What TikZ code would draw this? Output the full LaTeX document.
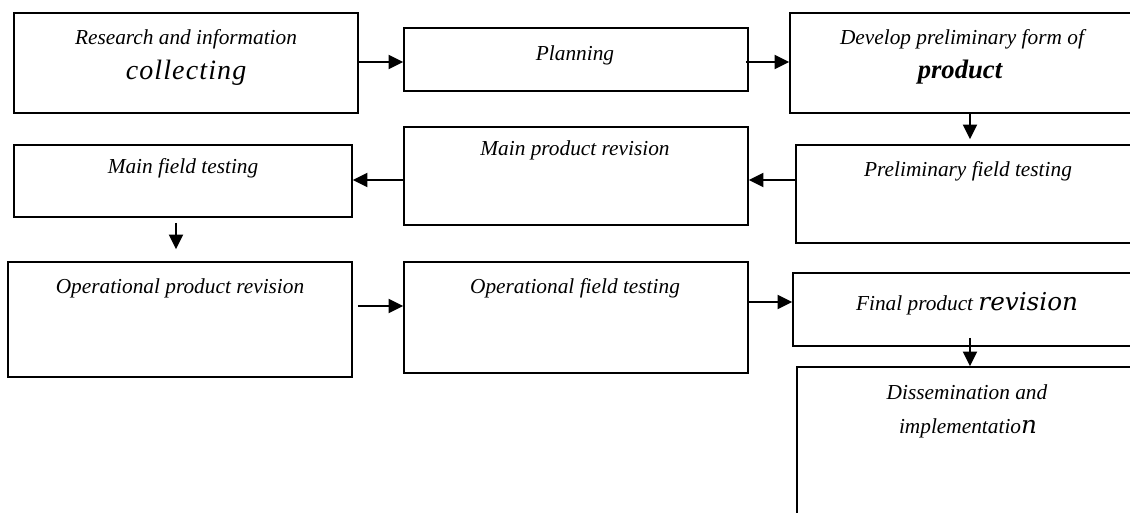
\documentclass[tikz,border=0pt]{standalone}
\usepackage{fontspec}
\setmainfont{Liberation Serif}
\newfontfamily\widefont{DejaVu Serif}
\newfontfamily\spacedfont[LetterSpace=4.0]{Liberation Serif}
\usetikzlibrary{arrows.meta,fit}
\tikzset{
  stagebox/.style={draw=black, line width=1.2pt, inner sep=0pt},
  lbl/.style={inner sep=0pt, font=\fontsize{16}{19}\selectfont\itshape},
  arr/.style={line width=1.5pt, -{Triangle[length=11pt,width=10.5pt]}},
}
\newcommand{\stage}[5]{%
  \coordinate (#1-nw) at (#2,#3);
  \coordinate (#1-se) at (#4,#5);
  \node[stagebox, fit=(#1-nw)(#1-se)] (#1) {};}
\begin{document}
\begin{tikzpicture}[x=0.75pt,y=-0.75pt]
\useasboundingbox (0,0) rectangle (1130,512);
\fill[white] (0,0) rectangle (1130,512);
\clip (0,0) rectangle (1130,512);
% boxes
\stage{b1}{14}{13}{358}{113}
\stage{b2}{404}{28}{748}{91}
\stage{b3}{790}{13}{1150}{113}
\stage{b4}{796}{145}{1150}{243}
\stage{b5}{404}{127}{748}{225}
\stage{b6}{14}{145}{352}{217}
\stage{b7}{8}{262}{352}{377}
\stage{b8}{404}{262}{748}{373}
\stage{b9}{793}{273}{1150}{346}
\stage{b10}{797}{367}{1150}{540}
% texts
\node[lbl] (t1a) at (186,39) {Research and information};
\node[lbl, font=\fontsize{21}{24}\selectfont\spacedfont\itshape] (t1b) at (186,73) {collecting};
\node[lbl] (t2) at (575,55) {Planning};
\node[lbl] (t3a) at (962,39) {Develop preliminary form of};
\node[lbl, font=\fontsize{20}{24}\selectfont\bfseries\itshape] (t3b) at (960,72) {product};
\node[lbl] (t5) at (575,150) {Main product revision};
\node[lbl] (t6) at (183,168) {Main field testing};
\node[lbl] (t4) at (968,171) {Preliminary field testing};
\node[lbl] (t7) at (180,288) {Operational product revision};
\node[lbl] (t8) at (575,288) {Operational field testing};
\node[lbl, anchor=base] (t9) at (967,310) {Final product {\fontsize{18.5}{22}\selectfont\widefont\itshape revision}};
\node[lbl] (t10a) at (967,392) {Dissemination and};
\node[lbl, anchor=base] (t10b) at (968,433) {implementatio{\fontsize{18.5}{22}\selectfont\widefont\itshape n}};
% helper coordinates
\coordinate (r62) at (0,62);
\coordinate (r180) at (0,180);
\coordinate (r306) at (0,306);
\coordinate (r302) at (0,302);
\coordinate (c970) at (970,0);
\coordinate (c176) at (176,0);
% connectors
\draw[arr] (b1.east |- r62) -- (b2.west |- r62);
\draw[arr, shorten <=-2.25pt] (b2.east |- r62) -- (b3.west |- r62);
\draw[arr, shorten >=3.75pt] (b3.south -| c970) -- (b4.north -| c970);
\draw[arr] (b4.west |- r180) -- (b5.east |- r180);
\draw[arr] (b5.west |- r180) -- (b6.east |- r180);
\draw[arr, shorten <=3.75pt, shorten >=9pt] (b6.south -| c176) -- (b7.north -| c176);
\draw[arr, shorten <=3.75pt] (b7.east |- r306) -- (b8.west |- r306);
\draw[arr] (b8.east |- r302) -- (b9.west |- r302);
\draw[arr, shorten <=-6.75pt] (b9.south -| c970) -- (b10.north -| c970);
\end{tikzpicture}
\end{document}
